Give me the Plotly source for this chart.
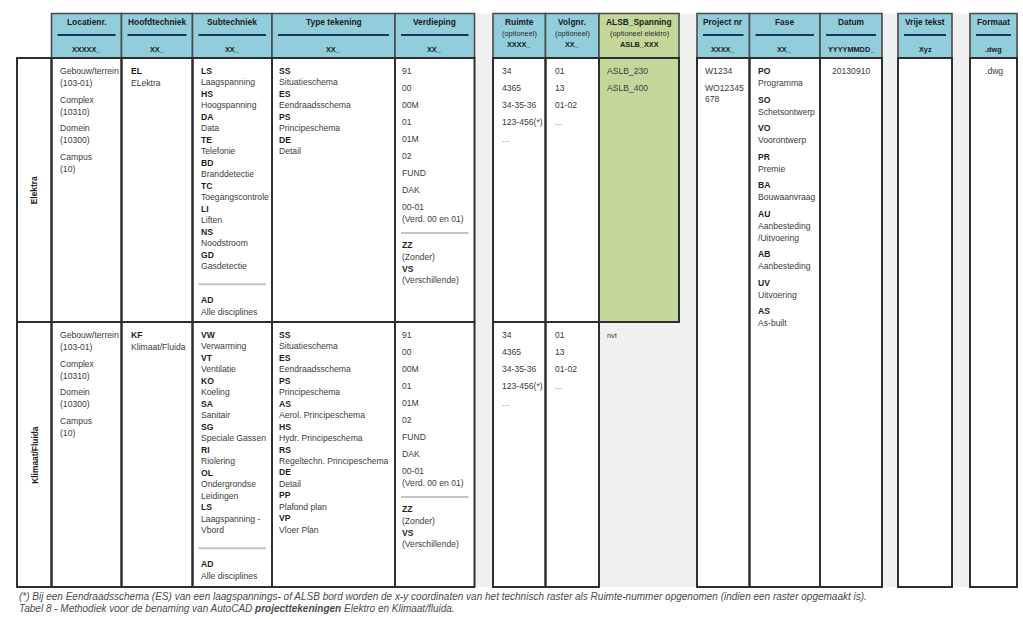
import plotly.graph_objects as go

# ---------------- data ----------------
ROW_LABELS = ["Elektra", "Klimaat/Fluida"]

HEADERS = [
    ["Locatienr.", "XXXXX_"],
    ["Hoofdtechniek", "XX_"],
    ["Subtechniek", "XX_"],
    ["Type tekening", "XX_"],
    ["Verdieping", "XX_"],
    ["Ruimte", "(optioneel)", "XXXX_"],
    ["Volgnr.", "(optioneel)", "XX_"],
    ["ALSB_Spanning", "(optioneel elektro)", "ASLB_XXX"],
    ["Project nr", "XXXX_"],
    ["Fase", "XX_"],
    ["Datum", "YYYYMMDD_"],
    ["Vrije tekst", "Xyz"],
    ["Formaat", ".dwg"],
]

LOCATIE = [["Gebouw/terrein", "(103-01)"], ["Complex", "(10310)"], ["Domein", "(10300)"], ["Campus", "(10)"]]
HOOFD_ELEKTRA = [("EL", "ELektra")]
HOOFD_KLIMAAT = [("KF", "Klimaat/Fluida")]
SUB_ELEKTRA = [("LS", "Laagspanning"), ("HS", "Hoogspanning"), ("DA", "Data"), ("TE", "Telefonie"),
               ("BD", "Branddetectie"), ("TC", "Toegangscontrole"), ("LI", "Liften"),
               ("NS", "Noodstroom"), ("GD", "Gasdetectie")]
SUB_KLIMAAT = [("VW", "Verwarming"), ("VT", "Ventilatie"), ("KO", "Koeling"), ("SA", "Sanitair"),
               ("SG", "Speciale Gassen"), ("RI", "Riolering"), ("OL", "Ondergrondse\nLeidingen"),
               ("LS", "Laagspanning -\nVbord")]
SUB_ALL = [("AD", "Alle disciplines")]
TYPE_ELEKTRA = [("SS", "Situatieschema"), ("ES", "Eendraadsschema"), ("PS", "Principeschema"), ("DE", "Detail")]
TYPE_KLIMAAT = [("SS", "Situatieschema"), ("ES", "Eendraadsschema"), ("PS", "Principeschema"),
                ("AS", "Aerol. Principeschema"), ("HS", "Hydr. Principeschema"),
                ("RS", "Regeltechn. Principeschema"), ("DE", "Detail"), ("PP", "Plafond plan"),
                ("VP", "Vloer Plan")]
VERDIEPING = ["91", "00", "00M", "01", "01M", "02", "FUND", "DAK", "00-01\n(Verd. 00 en 01)"]
VERD_EXTRA = [("ZZ", "(Zonder)"), ("VS", "(Verschillende)")]
RUIMTE = ["34", "4365", "34-35-36", "123-456(*)", "..."]
VOLGNR = ["01", "13", "01-02", "..."]
ALSB_ELEKTRA = ["ASLB_230", "ASLB_400"]
ALSB_KLIMAAT = ["nvt"]
PROJECT = ["W1234", "WO12345\n678"]
FASE = [("PO", "Programma"), ("SO", "Schetsontwerp"), ("VO", "Voorontwerp"), ("PR", "Premie"),
        ("BA", "Bouwaanvraag"), ("AU", "Aanbesteding\n/Uitvoering"), ("AB", "Aanbesteding"),
        ("UV", "Uitvoering"), ("AS", "As-built")]
DATUM = ["20130910"]
FORMAAT = [".dwg"]

FOOT1 = "(*) Bij een Eendraadsschema (ES) van een laagspannings- of ALSB bord worden de x-y coordinaten van het technisch raster als Ruimte-nummer opgenomen (indien een raster opgemaakt is)."
FOOT2 = "Tabel 8 - Methodiek voor de benaming van AutoCAD <b>projecttekeningen</b> Elektro en Klimaat/fluida."

# ---------------- layout constants ----------------
W, H = 1023, 619
FONT = "Liberation Sans, Arial, sans-serif"
BLUE = "#92cddc"
GREEN = "#c4d79b"
GRAY = "#f0f0f0"
BORDER = "#2e2e2e"
TXT = "#3c3c3c"
CODE = "#1e1e1e"
BODY_SIZE = 8.6

LABEL_COL = (17, 51.5)
COLS = [(51.5, 121.5), (121.5, 192.5), (192.5, 272), (272, 395), (395, 474.5),
        (493, 545.5), (545.5, 599), (599, 679),
        (697, 749.5), (749.5, 820), (820, 882), (898, 952), (970, 1017)]
GAPS = [(474.5, 493), (679, 697), (882, 898), (952, 970)]
HTOP, HBOT = 13.5, 58
ROWS = [(58, 322), (322, 587)]

fig = go.Figure()
fig.add_trace(go.Scatter(x=[20], y=[20], mode="markers", marker=dict(opacity=0), hoverinfo="skip", showlegend=False))

shapes = []
ann = []


def rect(x0, y0, x1, y1, fill=None, lw=0, lc=BORDER):
    d = dict(type="rect", xref="x", yref="y", x0=x0, y0=y0, x1=x1, y1=y1, layer="above",
             line=dict(width=lw, color=lc))
    d["fillcolor"] = fill if fill else "rgba(0,0,0,0)"
    shapes.append(d)


def line(x0, y0, x1, y1, w=2, c=BORDER):
    shapes.append(dict(type="line", xref="x", yref="y", x0=x0, y0=y0, x1=x1, y1=y1, layer="above",
                       line=dict(width=w, color=c)))


def text(x, y, s, size=BODY_SIZE, color=TXT, family=FONT, xanchor="left", bold=False, angle=0):
    if bold:
        s = "<b>" + s + "</b>"
    ann.append(dict(x=x, y=y, xref="x", yref="y", text=s, showarrow=False, xanchor=xanchor,
                    yanchor="middle", align="left", textangle=angle,
                    font=dict(family=family, size=size, color=color)))


# fills
for g in GAPS:
    rect(g[0], HTOP, g[1], ROWS[1][1], fill=GRAY)
rect(COLS[7][0], ROWS[1][0], COLS[7][1], ROWS[1][1], fill=GRAY)
rect(COLS[7][0], ROWS[0][0], COLS[7][1], ROWS[0][1], fill=GREEN)

# header
for i, (c, h) in enumerate(zip(COLS, HEADERS)):
    fill = GREEN if i == 7 else BLUE
    rect(c[0], HTOP, c[1], HBOT, fill=fill, lw=1.6, lc="#4a4a4a")
    cx = (c[0] + c[1]) / 2
    if len(h) == 2:
        text(cx, 22, h[0], size=8.4, color="#1a1a1a", xanchor="center", bold=True)
        line(c[0] + 6, 35, c[1] - 6, 35, w=2, c="#17365d")
        text(cx, 49.5, h[1], size=7.3, color="#1a1a1a", xanchor="center", bold=True)
    else:
        text(cx, 21.7, h[0], size=8.4, color="#1a1a1a", xanchor="center", bold=True)
        text(cx, 33.3, h[1], size=7.4, color="#2a2a2a", xanchor="center")
        text(cx, 44, h[2], size=7.3, color="#1a1a1a", xanchor="center", bold=True)

# body borders
for r in ROWS:
    rect(LABEL_COL[0], r[0], LABEL_COL[1], r[1], lw=2)
    for c in COLS[:7]:
        rect(c[0], r[0], c[1], r[1], lw=2)
rect(COLS[7][0], ROWS[0][0], COLS[7][1], ROWS[0][1], lw=2)
for c in COLS[8:]:
    rect(c[0], ROWS[0][0], c[1], ROWS[1][1], lw=2)

# row labels
for r, lab in zip(ROWS, ROW_LABELS):
    text((LABEL_COL[0] + LABEL_COL[1]) / 2, (r[0] + r[1]) / 2, lab, size=8.4, color="#1a1a1a",
         xanchor="center", bold=True, angle=-90)


def cell(col, row, blocks, lh, gap, pad=6, xanchor="left", sep=None, extra=None, elh=None, size=BODY_SIZE):
    x0, x1 = COLS[col]
    x = x0 + pad if xanchor == "left" else (x0 + x1) / 2
    y = ROWS[row][0] + 13
    last = y
    for b in blocks:
        for ln in b:
            s, bold = ln
            col_ = CODE if bold else ("#8a8a8a" if s == "..." else TXT)
            text(x, y, s, size=size, color=col_, bold=bold, xanchor=xanchor)
            last = y
            y += lh
        y += gap
    if sep is not None:
        ys = last + sep[0]
        line(x0 + 6, ys, x1 - 6, ys, w=2, c="#c4c4c4")
        y = ys + sep[1]
        for b in extra:
            for ln in b:
                s, bold = ln
                text(x, y, s, size=size, color=CODE if bold else TXT, bold=bold, xanchor=xanchor)
                y += elh if elh else lh


def pairs(lst):
    out = []
    for code, name in lst:
        b = [(code, True)] + [(n, False) for n in name.split("\n")]
        out.append(b)
    return out


def singles(lst):
    return [[(p, False) for p in s.split("\n")] for s in lst]


loc_blocks = [[(a, False), (b, False)] for a, b in LOCATIE]
for row, (hf, sub, typ, alsb) in enumerate([(HOOFD_ELEKTRA, SUB_ELEKTRA, TYPE_ELEKTRA, ALSB_ELEKTRA),
                                             (HOOFD_KLIMAAT, SUB_KLIMAAT, TYPE_KLIMAAT, ALSB_KLIMAAT)]):
    cell(0, row, loc_blocks, 12, 4.5)
    cell(1, row, pairs(hf), 12, 0, pad=7)
    cell(2, row, pairs(sub), 11.47, 0, sep=(18.3, 15.8), extra=pairs(SUB_ALL))
    cell(3, row, pairs(typ), 11.45, 0, pad=5)
    cell(4, row, singles(VERDIEPING), 11.6, 5.4, pad=5, sep=(14.5, 12), extra=pairs(VERD_EXTRA), elh=11.7)
    cell(5, row, singles(RUIMTE), 11.6, 5.4, pad=7)
    cell(6, row, singles(VOLGNR), 11.6, 5.4, pad=7)
    cell(7, row, singles(alsb), 11.6, 5.4, pad=6, size=BODY_SIZE if row == 0 else 7.4)

cell(8, 0, singles(PROJECT), 11.7, 5)
cell(9, 0, pairs(FASE), 12, 4.5)
cell(10, 0, singles(DATUM), 12, 0, xanchor="center")
cell(12, 0, singles(FORMAAT), 12, 0, xanchor="center")

# footer
text(17, 596.5, "<i>" + FOOT1 + "</i>", size=10, color="#4a4a4a")
text(17, 608.5, "<i>" + FOOT2 + "</i>", size=10, color="#4a4a4a")

fig.update_layout(
    width=W, height=H, margin=dict(l=0, r=0, t=0, b=0),
    paper_bgcolor="white", plot_bgcolor="white",
    xaxis=dict(range=[0, W], visible=False, fixedrange=True),
    yaxis=dict(range=[H, 0], visible=False, fixedrange=True),
    shapes=shapes, annotations=ann, showlegend=False,
)
# remove the default 8px page margin so that axis units equal window pixels
fig.write_html("out.html", config={"displayModeBar": False},
               post_script="document.body.style.margin='0';document.body.style.overflow='hidden';")
